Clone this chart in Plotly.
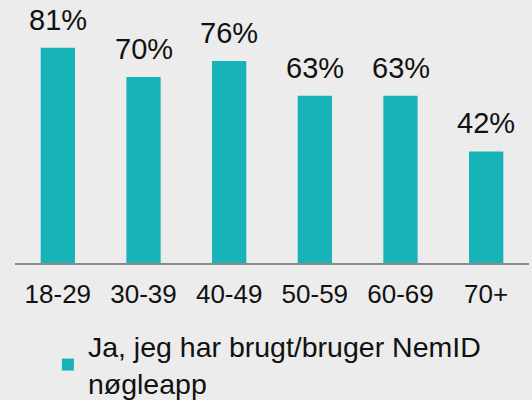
import plotly.graph_objects as go

categories = ["18-29", "30-39", "40-49", "50-59", "60-69", "70+"]
values = [81, 70, 76, 63, 63, 42]
labels = ["81%", "70%", "76%", "63%", "63%", "42%"]
series_name = "Ja, jeg har brugt/bruger NemID<br>nøgleapp"

BAR = "#17b3b8"
BG = "#ececec"
FONT = "Liberation Sans, Arial, sans-serif"

fig = go.Figure()
fig.add_trace(go.Bar(
    x=categories, y=values, name=series_name,
    marker=dict(color=BAR, line=dict(width=0)),
    showlegend=True,
))

for c, v, t in zip(categories, values, labels):
    fig.add_annotation(x=c, y=v, text=t, showarrow=False, yanchor="bottom",
                       yshift=10, font=dict(family=FONT, size=29, color="#111111"))

fig.update_layout(
    width=532, height=400,
    margin=dict(l=15, r=3, t=0, b=137, autoexpand=False),
    paper_bgcolor=BG, plot_bgcolor=BG,
    bargap=0.6,
    font=dict(family=FONT, size=26, color="#111111"),
    showlegend=True,
    legend=dict(orientation="v", x=0.064, xanchor="left",
                yref="container", y=0.1975, yanchor="top",
                font=dict(family=FONT, size=28.5, color="#111111"),
                bgcolor="rgba(0,0,0,0)", borderwidth=0),
    xaxis=dict(showgrid=False, showline=True, linecolor="#8a8a8a", linewidth=2,
               ticks="", ticklabelstandoff=7, tickfont=dict(size=26),
               automargin=False),
    yaxis=dict(range=[0, 99], visible=False, showgrid=False, zeroline=False,
               automargin=False),
)

fig.write_html("out.html", config={"displayModeBar": False},
               post_script="document.body.style.margin='0';")
